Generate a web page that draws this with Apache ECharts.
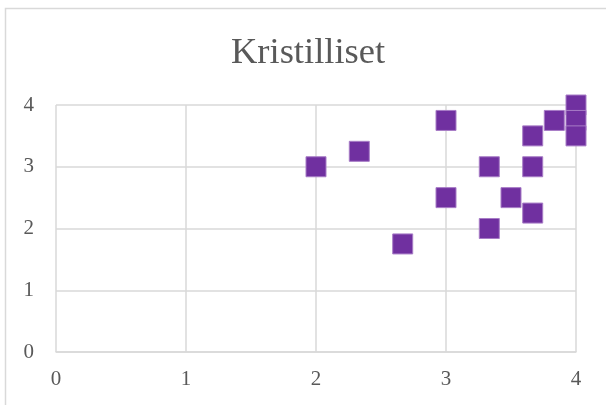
<!DOCTYPE html>
<html>
<head>
<meta charset="utf-8">
<script src="https://cdn.jsdelivr.net/npm/echarts@6/dist/echarts.min.js"></script>
<style>
  html, body { margin: 0; padding: 0; background: #fff; }
  #main { width: 606px; height: 405px; }
</style>
</head>
<body>
<div id="main"></div>
<script>
var titleText = 'Kristilliset';
var xValues = [2, 2.333, 2.667, 3, 3, 3.333, 3.333, 3.5, 3.667, 3.667, 3.667, 3.833, 4, 4, 4];
var yValues = [3, 3.25, 1.75, 3.75, 2.5, 3, 2, 2.5, 3.5, 3, 2.25, 3.75, 4, 3.75, 3.5];
var xTicks = [0, 1, 2, 3, 4];
var yTicks = [0, 1, 2, 3, 4];

var points = [];
for (var i = 0; i < xValues.length; i++) {
    points.push([xValues[i], yValues[i]]);
}

var chart = echarts.init(document.getElementById('main'));
var labelFont = 'Liberation Serif, Times New Roman, serif';
var option = {
    animation: false,
    backgroundColor: '#fff',
    title: {
        text: titleText,
        left: 226,
        top: 30,
        textStyle: {
            fontFamily: labelFont,
            fontSize: 36.5,
            fontWeight: 'normal',
            color: '#595959'
        }
    },
    graphic: [{
        type: 'rect',
        shape: { x: 5.5, y: 8.5, width: 640, height: 440 },
        style: { fill: null, stroke: '#d9d9d9', lineWidth: 1.5 },
        silent: true
    }],
    grid: { left: 56, right: 30, top: 105, bottom: 53 },
    xAxis: {
        type: 'value',
        min: xTicks[0],
        max: xTicks[xTicks.length - 1],
        interval: 1,
        axisLine: { show: true, lineStyle: { color: '#d9d9d9', width: 1.5 } },
        axisTick: { show: false },
        axisLabel: {
            fontFamily: labelFont, fontSize: 21, color: '#595959', margin: 17,
            formatter: function (v) { return xTicks.indexOf(v) >= 0 ? String(v) : ''; }
        },
        splitLine: { show: true, lineStyle: { color: '#d9d9d9', width: 1.5 } }
    },
    yAxis: {
        type: 'value',
        min: yTicks[0],
        max: yTicks[yTicks.length - 1],
        interval: 1,
        axisLine: { show: false },
        axisTick: { show: false },
        axisLabel: {
            fontFamily: labelFont, fontSize: 21, color: '#595959', margin: 22,
            formatter: function (v) { return yTicks.indexOf(v) >= 0 ? String(v) : ''; }
        },
        splitLine: { show: true, lineStyle: { color: '#d9d9d9', width: 1.5 } }
    },
    series: [{
        type: 'scatter',
        symbol: 'rect',
        symbolSize: 20,
        data: points,
        itemStyle: {
            color: '#7030a0',
            borderColor: '#a77cc6',
            borderWidth: 1,
            opacity: 1
        }
    }]
};
chart.setOption(option);
</script>
</body>
</html>
